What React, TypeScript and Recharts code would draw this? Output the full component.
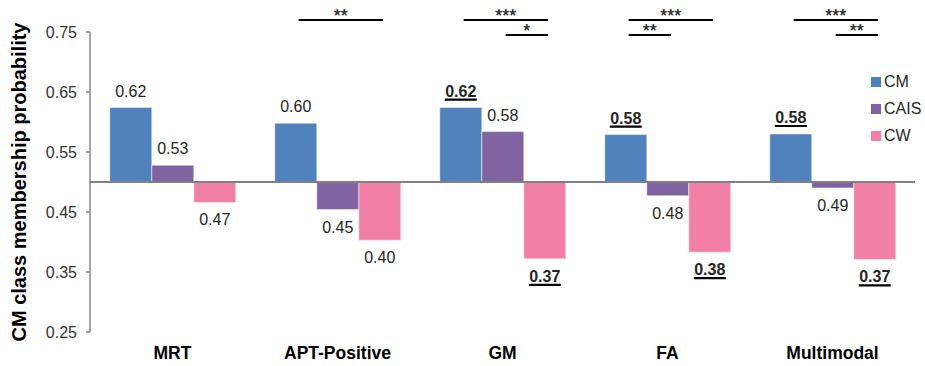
import React from 'react';
import { BarChart, Bar, XAxis, YAxis, ReferenceLine, LabelList, Legend, Label } from 'recharts';

const categories = ['MRT', 'APT-Positive', 'GM', 'FA', 'Multimodal'];
const cmValues = [0.624, 0.598, 0.624, 0.579, 0.58];
const caisValues = [0.528, 0.454, 0.584, 0.477, 0.49];
const cwValues = [0.466, 0.403, 0.372, 0.383, 0.371];
const cmBold = [false, false, true, true, true];
const caisBold = [false, false, false, false, false];
const cwBold = [false, false, true, true, true];
const yTicks = [0.25, 0.35, 0.45, 0.55, 0.65, 0.75];
const seriesNames = ['CM', 'CAIS', 'CW'];
const seriesColors = ['#4F81BD', '#8064A2', '#F27FA5'];

// significance comparisons: category, from series, to series, stars, row (0 top, 1 lower)
const sigCats = ['APT-Positive', 'GM', 'GM', 'FA', 'FA', 'Multimodal', 'Multimodal'];
const sigFrom = ['CM', 'CM', 'CAIS', 'CM', 'CM', 'CM', 'CAIS'];
const sigTo = ['CW', 'CW', 'CW', 'CW', 'CAIS', 'CW', 'CW'];
const sigStars = ['**', '***', '*', '***', '**', '***', '**'];
const sigRow = [0, 0, 1, 0, 1, 0, 1];

const BASE = 0.5;
const SIG_LEVELS = [0.77, 0.745];
const FONT = "Arial, 'Liberation Sans', Helvetica, sans-serif";

const data = categories.map((name, i) => ({
  name,
  CM: cmValues[i],
  CAIS: caisValues[i],
  CW: cwValues[i],
}));

const valuesBySeries: Record<string, number[]> = { CM: cmValues, CAIS: caisValues, CW: cwValues };
const boldBySeries: Record<string, boolean[]> = { CM: cmBold, CAIS: caisBold, CW: cwBold };

function makeLabel(series: string, withSig: boolean) {
  return (props: any) => {
    const { x, y, width, height, index } = props;
    const v = valuesBySeries[series][index];
    const bold = boldBySeries[series][index];
    const top = Math.min(y, y + height);
    const bottom = Math.max(y, y + height);
    const cx = x + width / 2;
    const txt = v.toFixed(2);
    const ty = v >= BASE ? top - 11 : bottom + 23;
    const tw = bold ? 32 : 0;
    const els: any[] = [];
    els.push(
      <text key="t" x={cx} y={ty} textAnchor="middle" fontSize={16} fontFamily={FONT}
        fontWeight={bold ? 'bold' : 'normal'} fill="#262626">{txt}</text>
    );
    if (bold) {
      els.push(<line key="u" x1={cx - tw / 2} x2={cx + tw / 2} y1={ty + 3} y2={ty + 3} stroke="#000" strokeWidth={2.2} />);
    }
    if (withSig) {
      const ppu = Math.abs(height) / Math.abs(v - BASE);
      const y0 = v >= BASE ? bottom : top;
      const sIdx = seriesNames.indexOf(series);
      const centerOf = (s: string) => cx - (sIdx - seriesNames.indexOf(s)) * width;
      sigCats.forEach((c, k) => {
        if (c !== categories[index]) return;
        const ly = y0 - (SIG_LEVELS[sigRow[k]] - BASE) * ppu;
        const x1 = centerOf(sigFrom[k]) + 3;
        const x2 = centerOf(sigTo[k]) + 3;
        els.push(<line key={'s' + k} x1={x1} x2={x2} y1={ly} y2={ly} stroke="#000" strokeWidth={2} />);
        els.push(
          <text key={'st' + k} x={(x1 + x2) / 2} y={ly + 1.5} textAnchor="middle" fontSize={18}
            fontFamily={FONT} fill="#333">{sigStars[k]}</text>
        );
      });
    }
    return <g>{els}</g>;
  };
}

const LegendContent = () => (
  <div style={{ fontFamily: FONT, fontSize: 16, color: '#262626', width: 60 }}>
    {seriesNames.map((n, i) => (
      <div key={n} style={{ display: 'flex', alignItems: 'center', height: 27 }}>
        <span style={{ display: 'inline-block', width: 10, height: 10, background: seriesColors[i], marginRight: 3 }} />
        <span>{n}</span>
      </div>
    ))}
  </div>
);

const XTick = (props: any) => {
  const { x, y, payload } = props;
  return (
    <text x={x} y={y + 27} textAnchor="middle" fontSize={17.5} fontWeight="bold" fontFamily={FONT} fill="#000">
      {payload.value}
    </text>
  );
};

const YTitle = (props: any) => {
  const { viewBox } = props;
  const cy = viewBox.y + viewBox.height / 2;
  const cx = 19;
  return (
    <text x={cx} y={cy} transform={`rotate(-90 ${cx} ${cy})`} textAnchor="middle" dominantBaseline="central"
      fontSize={20} fontWeight="bold" fontFamily={FONT} fill="#000">
      CM class membership probability
    </text>
  );
};

export default function App() {
  return (
    <div style={{ position: 'absolute', left: 0, top: 0, width: 925, height: 366, background: '#fff' }}>
      <BarChart width={925} height={366} data={data} margin={{ top: 32, right: 10, bottom: 0, left: 0 }}
        barCategoryGap="12%" barGap={0}>
        <XAxis dataKey="name" axisLine={false} tickLine={false} tickSize={0} tickMargin={0} height={34}
          tick={<XTick />} interval={0} />
        <YAxis domain={[0.25, 0.75]} ticks={yTicks} width={90} tickSize={4} tickMargin={9}
          axisLine={{ stroke: '#868686', strokeWidth: 1.5 }} tickLine={{ stroke: '#868686', strokeWidth: 1.5 }}
          tick={{ fontSize: 16, fill: '#333', fontFamily: FONT }}
          tickFormatter={(v: number) => v.toFixed(2)}>
          <Label content={<YTitle />} />
        </YAxis>
        <Legend layout="horizontal" verticalAlign="middle" align="right" content={<LegendContent />}
          wrapperStyle={{ position: 'absolute', left: 871, top: 68, width: 0, height: 0, overflow: 'visible' }} />
        {seriesNames.map((s, i) => (
          <Bar key={s} dataKey={(d: any) => [BASE, d[s]]} name={s} fill={seriesColors[i]}
            stroke="#ffffff" strokeOpacity={0.5} strokeWidth={1} isAnimationActive={false}>
            <LabelList content={makeLabel(s, s !== 'CM')} />
          </Bar>
        ))}
        <ReferenceLine y={BASE} stroke="#808080" strokeWidth={2} ifOverflow="visible" />
      </BarChart>
    </div>
  );
}
